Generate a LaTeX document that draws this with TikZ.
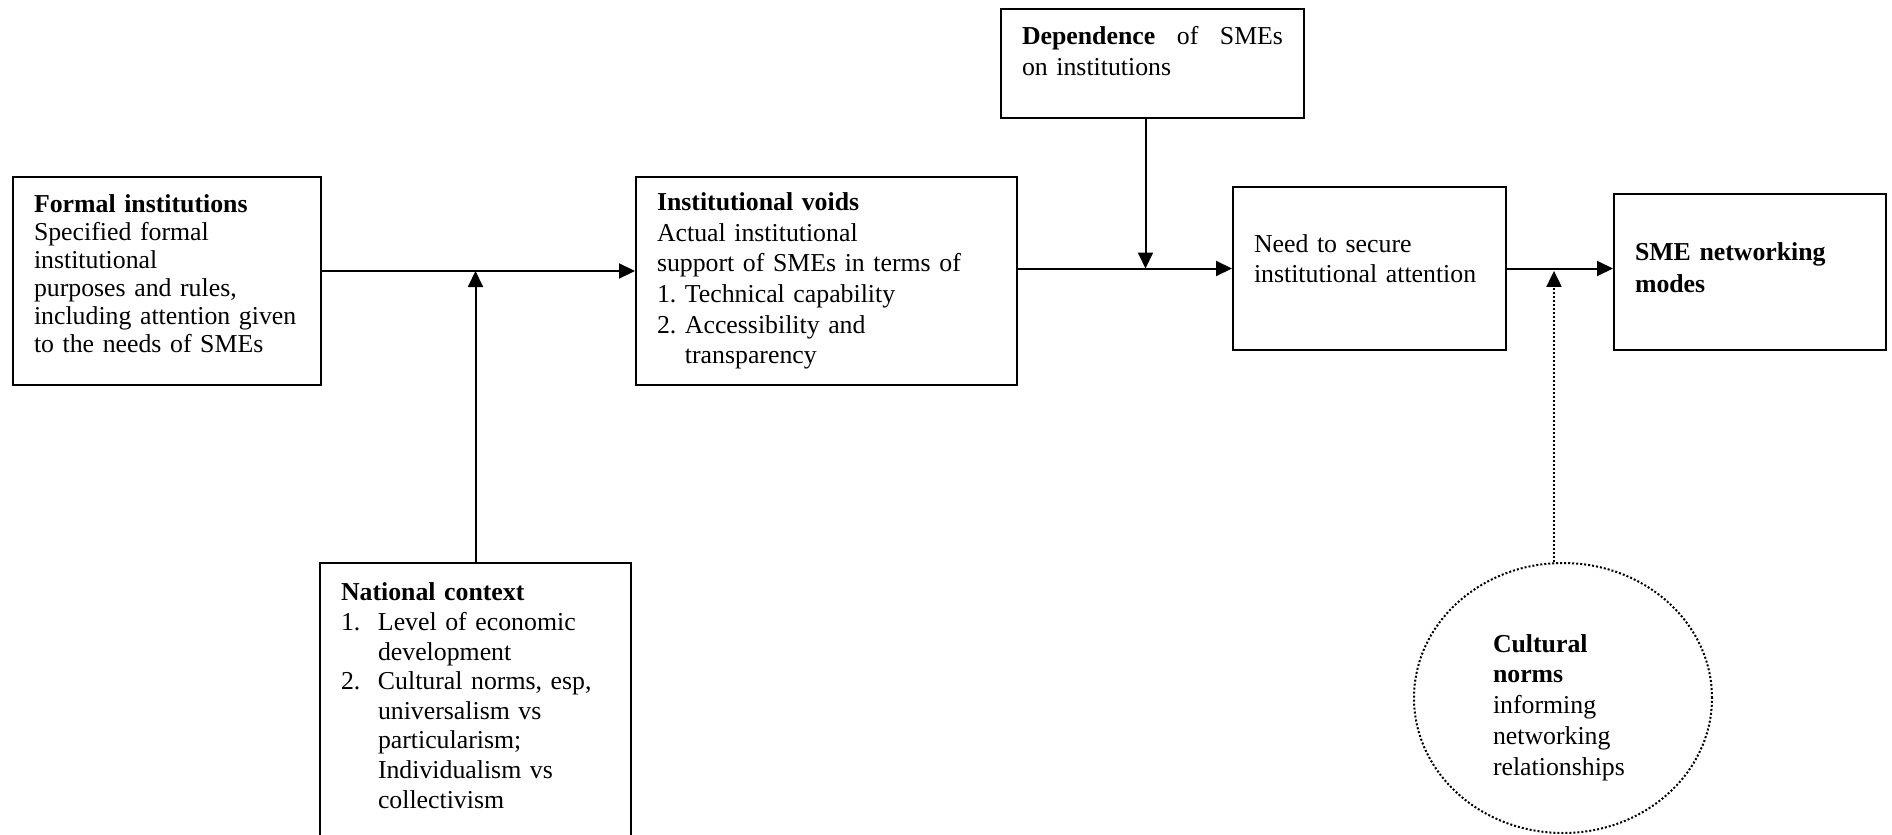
\documentclass[tikz,border=0pt]{standalone}
\usepackage{fontspec}
\setmainfont{Liberation Serif}
\usetikzlibrary{arrows.meta,shapes.geometric}

\tikzset{
	blk/.style={draw,line width=1pt,anchor=north west,align=left,inner xsep=10.5pt},
	fs/.style={font=\fontsize{12.9}{#1}\selectfont},
	arr/.style={line width=1pt,-{Triangle[length=8pt,width=7.5pt]}},
	dots/.style={dash pattern=on 1pt off 1pt}
}

\begin{document}
\begin{tikzpicture}[x=0.5pt,y=-0.5pt]
	\useasboundingbox (0,0) rectangle (1892,835);
	\node[blk,fs=14pt,text width=133pt,minimum height=104pt](formal) at (12,176){\textbf{Formal institutions}\\Specified formal\\institutional\\purposes and rules,\\including attention given\\to the needs of SMEs\\[-6.8pt]\mbox{}};
	\node[blk,fs=15.3pt,text width=169.5pt,minimum height=104pt](voids) at (635,176){\textbf{Institutional voids}\\Actual institutional\\support of SMEs in terms of\\1.\ Technical capability\\2.\ Accessibility and\\\phantom{2.\ }transparency};
	\node[blk,fs=15.7pt,text width=130.5pt,minimum height=54.5pt](dep) at (1000,8){\textbf{Dependence}\hfill of\hfill SMEs\\on institutions\\[-3.4pt]\mbox{}};
	\node[blk,fs=15pt,text width=115.5pt,minimum height=81.5pt](need) at (1232,186){Need to secure\\institutional attention\\[-4.6pt]\mbox{}};
	\node[blk,fs=15.7pt,text width=115pt,minimum height=78pt](sme) at (1613,193){\textbf{SME networking}\\\textbf{modes}\\[-11.3pt]\mbox{}};
	\node[blk,fs=14.8pt,text width=134.5pt,inner ysep=10pt](national) at (319,562){\textbf{National context}\\\makebox[18.5pt][l]{1.}Level of economic\\\hspace*{18.5pt}development\\\makebox[18.5pt][l]{2.}Cultural norms, esp,\\\hspace*{18.5pt}universalism vs\\\hspace*{18.5pt}particularism;\\\hspace*{18.5pt}Individualism vs\\\hspace*{18.5pt}collectivism\\[20pt]\mbox{}};
	\node[ellipse,draw,dots,line width=1pt,minimum width=149pt,minimum height=135pt,inner sep=0pt,align=left,text width=70pt,fs=15.4pt](cult) at (1563,698){\mbox{}\\[3.1pt]\textbf{Cultural}\\\textbf{norms}\\informing\\networking\\relationships};

	\coordinate (fv) at ([yshift=5pt]formal.east);
	\draw[arr](fv)--(fv -| voids.west);
	\draw[arr](national)--(national.north |- fv);
	\draw[arr](need.west -| voids.east)--(need.west);
	\coordinate (dp) at ([xshift=-3.5pt]dep.south);
	\draw[arr](dp)--(dp |- need.west);
	\draw[arr](need.east)--(need.east -| sme.west);
	\coordinate (ct) at ([xshift=-4.5pt]cult.north);
	\coordinate (ne) at ([yshift=-1.2pt]need.east);
	\draw[arr,dots](ct)--(ct |- ne);
\end{tikzpicture}
\end{document}
